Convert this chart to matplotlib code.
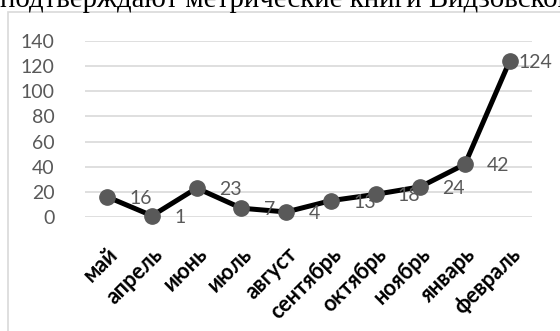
import matplotlib
matplotlib.use("Agg")
import matplotlib.pyplot as plt
from matplotlib.patches import Rectangle

# data
months = ["май", "апрель", "июнь", "июль", "август",
          "сентябрь", "октябрь", "ноябрь", "январь", "февраль"]
counts = [16, 1, 23, 7, 4, 13, 18, 24, 42, 124]
y_ticks = [0, 20, 40, 60, 80, 100, 120, 140]
caption = "подтверждают метрические книги Видзовского"

W, H = 560, 331
fig = plt.figure(figsize=(W / 100, H / 100), dpi=100)
fig.patch.set_facecolor("white")

# cut-off caption line above the chart
fig.text(0.0, 1 - 7 / H, caption, family="Liberation Serif", fontsize=20.8,
         color="black", ha="left", va="baseline")

# chart frame
fig.patches.append(Rectangle((8 / W, -0.1), 1.2, 1.1 - 12 / H,
                             transform=fig.transFigure, fill=False,
                             edgecolor="#d9d9d9", linewidth=1.2))

ax = fig.add_axes([85 / W, 1 - 217 / H, (532 - 85) / W, (217 - 41) / H])
ax.set_facecolor("none")
x = list(range(len(months)))
ax.plot(x, counts, color="black", linewidth=3.6, marker="o", markersize=11,
        markerfacecolor="#595959", markeredgecolor="#595959", zorder=3,
        clip_on=False)

# data labels to the right of points; the last one sits closer (plot edge)
for xi, v in zip(x, counts):
    dx = 6 if xi == len(counts) - 1 else 16
    ax.annotate(str(v), (xi, v), xytext=(dx, -1), textcoords="offset points",
                ha="left", va="center", family="Lato", fontsize=14,
                color="#595959", zorder=4)

ax.set_xlim(-0.5, len(months) - 0.5)
ax.set_ylim(0, 140)
ax.set_yticks(y_ticks)
ax.yaxis.grid(True, color="#d9d9d9", linewidth=1.2)
ax.set_axisbelow(True)
for s in ax.spines.values():
    s.set_visible(False)
ax.tick_params(axis="both", length=0)
ax.tick_params(axis="y", pad=22)
for lab in ax.get_yticklabels():
    lab.set_family("Lato")
    lab.set_fontsize(14)
    lab.set_color("#595959")

ax.set_xticks(x)
ax.set_xticklabels(months, rotation=45, ha="right", rotation_mode="anchor",
                   family="Lato", fontsize=15.5, fontweight="bold", color="black")
ax.tick_params(axis="x", pad=19)

fig.savefig("out.png", dpi=100)
